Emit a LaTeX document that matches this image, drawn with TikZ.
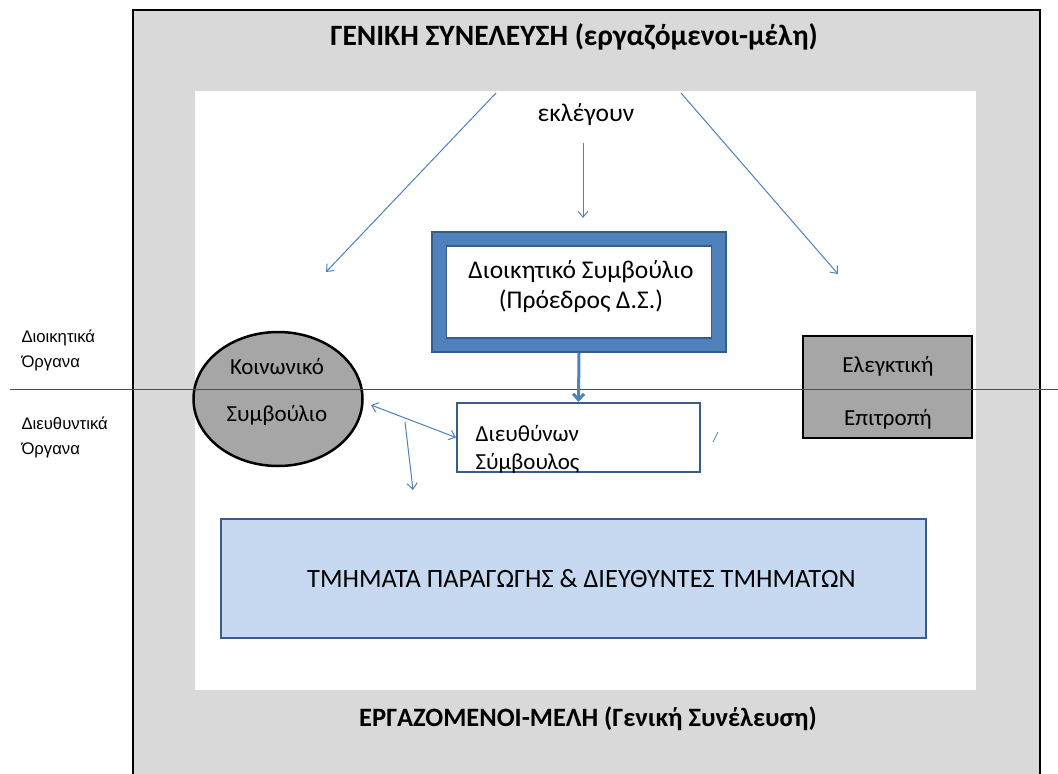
\documentclass[tikz,border=0pt]{standalone}
\usepackage{fontspec}
\setmainfont{Carlito}
\newfontfamily\sidefont{Liberation Sans}
\usetikzlibrary{arrows.meta,shapes.geometric}

\definecolor{shellgray}{HTML}{D9D9D9}
\definecolor{organgray}{HTML}{A6A6A6}
\definecolor{linkblue}{HTML}{4F81BD}
\definecolor{edgeblue}{HTML}{385D8A}
\definecolor{deptblue}{HTML}{C6D9F1}

\tikzset{
  thinlink/.style={draw=linkblue, line width=1pt, -{Straight Barb[length=6pt,width=10pt]}},
  boldlink/.style={draw=linkblue, line width=3pt, -{Straight Barb[length=6pt,width=11pt]}},
  headline/.style={font=\bfseries\fontsize{29.5}{32}\selectfont},
  bodytext/.style={font=\fontsize{23}{30}\selectfont},
  sidenote/.style={font=\sidefont\fontsize{16.7}{25}\selectfont, align=left, anchor=west},
  organbox/.style={draw=black, line width=2.5pt, fill=organgray}
}

\begin{document}
\begin{tikzpicture}[x=1pt,y=-1pt]
      \useasboundingbox (0,0) rectangle (1058,774);

      % general assembly frame
      \fill[shellgray] (133,10) rectangle (1040,790);
      \draw[line width=2.5pt] (133,790) -- (133,10) -- (1040,10) -- (1040,790);
      \fill[white] (195,91) rectangle (976,690);

      \node[headline] (assembly) at (574,37) {ΓΕΝΙΚΗ ΣΥΝΕΛΕΥΣΗ (εργαζόμενοι-μέλη)};
      \node[headline, font=\bfseries\fontsize{26.5}{30}\selectfont] (members) at (588,719) {ΕΡΓΑΖΟΜΕΝΟΙ-ΜΕΛΗ (Γενική Συνέλευση)};
      \node[bodytext, font=\fontsize{25.5}{30}\selectfont] (elect) at (586,115) {εκλέγουν};

      % board of directors
      \node[draw=edgeblue, line width=1.5pt, fill=linkblue, minimum width=294pt, minimum height=120pt] (boardframe) at (579,292) {};
      \node[draw=edgeblue, line width=1.5pt, fill=white, minimum width=265pt, minimum height=92pt] (board) at (579,292) {};
      \node[bodytext, align=center, font=\fontsize{25.5}{30}\selectfont] (boardtext) at (581,287) {Διοικητικό Συμβούλιο\\(Πρόεδρος Δ.Σ.)};

      \node[draw=edgeblue, line width=2pt, fill=white, minimum width=243pt, minimum height=69pt] (ceo) at (578.5,437.5) {};
      \node[bodytext, align=left, anchor=west, font=\fontsize{23}{28}\selectfont] (ceotext) at (472,449) {Διευθύνων\\Σύμβουλος};

      \node[organbox, ellipse, minimum width=169pt, minimum height=134pt] (social) at (278,399) {};
      \node[bodytext, align=center, font=\fontsize{23}{47}\selectfont] (socialtext) at (277,392) {Κοινωνικό\\Συμβούλιο};
      \node[organbox, minimum width=169pt, minimum height=102pt] (audit) at (887.5,387) {};
      \node[bodytext, align=center, font=\fontsize{23}{53}\selectfont] (audittext) at (888,393) {Ελεγκτική\\Επιτροπή};

      \node[draw=edgeblue, line width=2pt, fill=deptblue, minimum width=705pt, minimum height=119pt, font=\fontsize{26.4}{30}\selectfont] (depts) at (573.5,578.5) {\hspace*{16pt}ΤΜΗΜΑΤΑ ΠΑΡΑΓΩΓΗΣ \& ΔΙΕΥΘΥΝΤΕΣ ΤΜΗΜΑΤΩΝ};

      % split between the two kinds of organs
      \draw[line width=1pt, black!70] (10,389) -- (1058,389);
      \node[sidenote] (govern) at (18,350) {Διοικητικά\\Όργανα};
      \node[sidenote] (manage) at (18,437) {Διευθυντικά\\Όργανα};

      \coordinate (electL) at (496,93);
      \coordinate (electR) at (681,93);
      \coordinate (electM) at (583,143);
      \coordinate (boardTip) at (583,218);
      \coordinate (socialTip) at (326,272);
      \coordinate (auditTip) at (838,274);
      \coordinate (socialOut) at (371,405);
      \coordinate (forkTop) at (405,422);
      \coordinate (forkTip) at (413,490);
      \coordinate (tickA) at (713,442);
      \coordinate (tickB) at (718,432);

      \draw[thinlink] (electL) -- (socialTip);
      \draw[thinlink] (electR) -- (auditTip);
      \draw[thinlink] (electM) -- (boardTip);
      \draw[boldlink] (boardframe.south) -- (ceo.north);
      \draw[thinlink, {Straight Barb[length=6pt,width=10pt]}-{Straight Barb[length=6pt,width=10pt]}] (socialOut) -- (ceo.west);
      \draw[thinlink] (forkTop) -- (forkTip);
      \draw[linkblue, line width=0.8pt] (tickA) -- (tickB);
\end{tikzpicture}
\end{document}
